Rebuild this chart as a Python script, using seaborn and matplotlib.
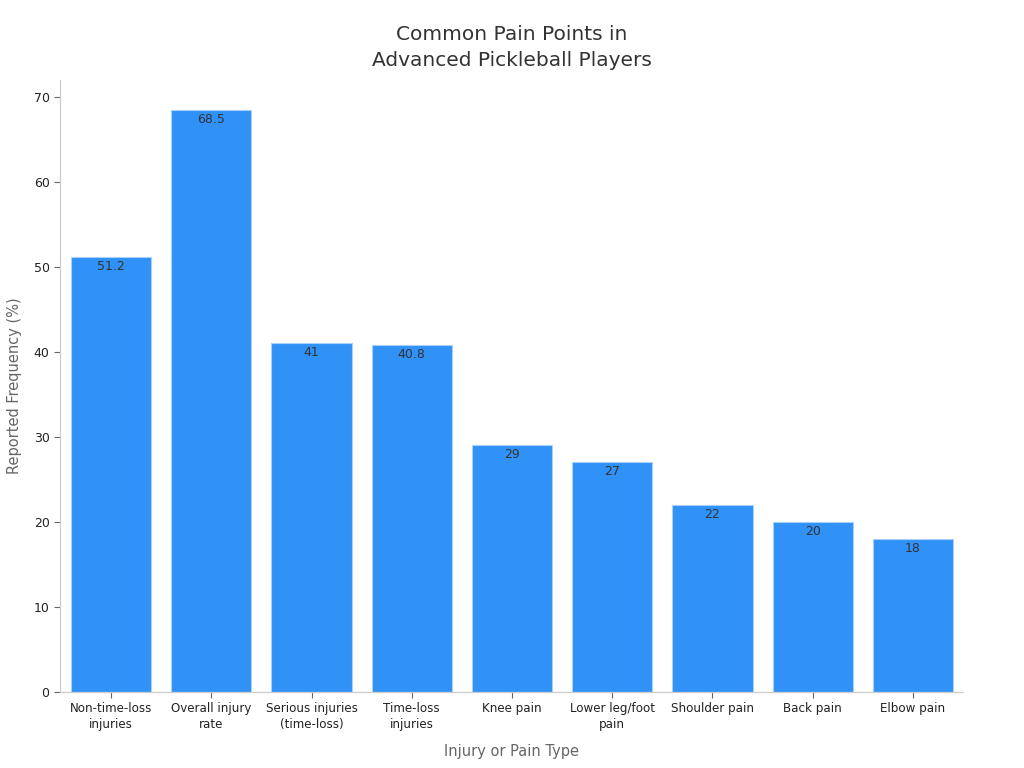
import matplotlib
matplotlib.use("Agg")
import matplotlib.pyplot as plt
import pandas as pd
import seaborn as sns

categories = ["Non-time-loss\ninjuries", "Overall injury\nrate", "Serious injuries\n(time-loss)",
              "Time-loss\ninjuries", "Knee pain", "Lower leg/foot\npain", "Shoulder pain",
              "Back pain", "Elbow pain"]
values = [51.2, 68.5, 41, 40.8, 29, 27, 22, 20, 18]
value_labels = ["51.2", "68.5", "41", "40.8", "29", "27", "22", "20", "18"]

BAR_COLOR = "#3091F7"

sns.set_style("white")
plt.rcParams['font.family'] = ['DejaVu Sans']

df = pd.DataFrame({"cat": categories, "val": values})

fig, ax = plt.subplots(figsize=(10.24, 7.68), dpi=100)
fig.subplots_adjust(left=0.0586, right=0.9405, top=0.896, bottom=0.099)

sns.barplot(data=df, x="cat", y="val", color=BAR_COLOR, saturation=1, width=0.8,
            edgecolor="#a8d0fb", linewidth=0.8, ax=ax)

for bar, lbl in zip(ax.patches, value_labels):
    ax.text(bar.get_x() + bar.get_width() / 2, bar.get_height() - 0.35, lbl,
            ha="center", va="top", fontsize=9, color="#333333")

ax.set_ylim(0, 72)
ax.set_xlim(-0.51, 8.5)
ax.set_yticks([0, 10, 20, 30, 40, 50, 60, 70])
ax.tick_params(axis="y", labelsize=9, length=4, width=0.8, left=True)
ax.tick_params(axis="x", labelsize=8.6, length=4, width=0.8, bottom=True)
ax.tick_params(axis="both", color="#666666", labelcolor="#222222")
for t in ax.get_xticklabels():
    t.set_linespacing(1.3)

for s in ["top", "right"]:
    ax.spines[s].set_visible(False)
for s in ["left", "bottom"]:
    ax.spines[s].set_color("#cccccc")
    ax.spines[s].set_linewidth(0.9)

ax.set_xlabel("Injury or Pain Type", fontsize=10.5, color="#666666", labelpad=9)
ax.set_ylabel("Reported Frequency (%)", fontsize=10.5, color="#666666", labelpad=8)
ax.set_title("Common Pain Points in\nAdvanced Pickleball Players", fontsize=14.5,
             color="#333333", pad=10, linespacing=1.45)

fig.savefig("out.png", dpi=100)
